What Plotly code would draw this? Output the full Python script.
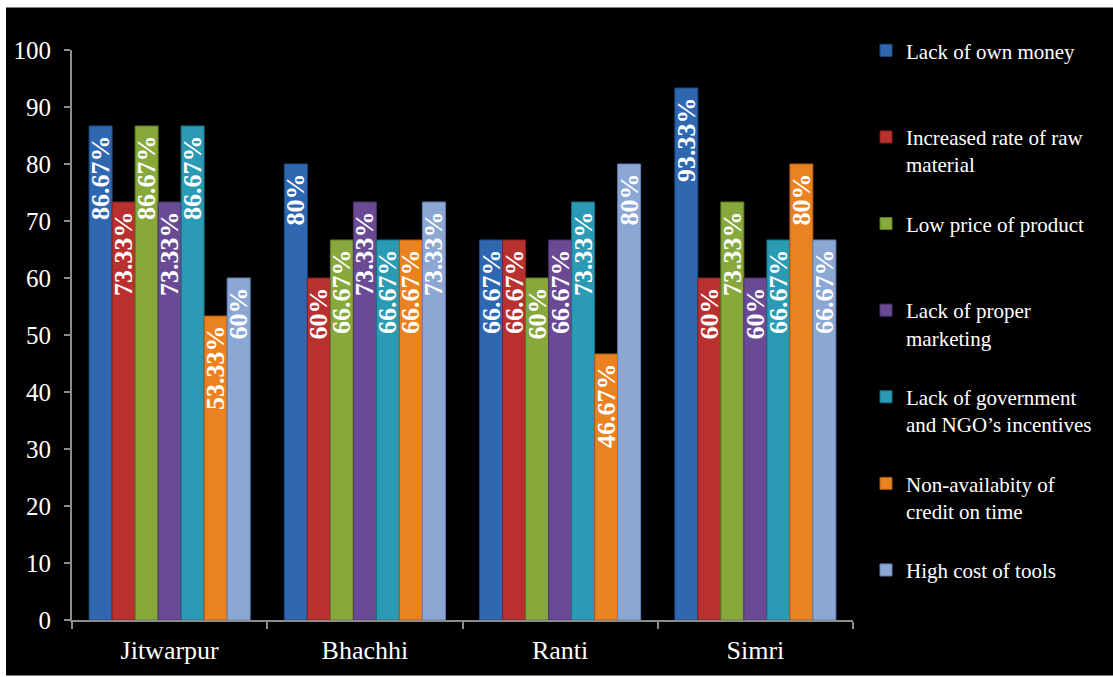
import plotly.graph_objects as go

# Survey: constraints faced by artisans, % of respondents per village
villages = ["Jitwarpur", "Bhachhi", "Ranti", "Simri"]

lack_of_own_money = [86.67, 80, 66.67, 93.33]
increased_raw_material_rate = [73.33, 60, 66.67, 60]
low_product_price = [86.67, 66.67, 60, 73.33]
lack_of_marketing = [73.33, 73.33, 66.67, 60]
lack_of_incentives = [86.67, 66.67, 73.33, 66.67]
no_credit_on_time = [53.33, 66.67, 46.67, 80]
high_tool_cost = [60, 73.33, 80, 66.67]

series_names = [
    "Lack of own money",
    "Increased rate of raw<br>material",
    "Low price of product",
    "Lack of proper<br>marketing",
    "Lack of government<br>and NGO’s incentives",
    "Non-availabity of<br>credit on time",
    "High cost of tools",
]
series_values = [
    lack_of_own_money,
    increased_raw_material_rate,
    low_product_price,
    lack_of_marketing,
    lack_of_incentives,
    no_credit_on_time,
    high_tool_cost,
]
series_colors = ["#2f67b1", "#b8312f", "#87a93c", "#6b4a95", "#2b9ab4", "#ea8221", "#8ca7d4"]
series_edges = ["#1f4a82", "#822220", "#5f7a27", "#4a3269", "#1d6f82", "#a85a12", "#6180b0"]

SERIF = "Liberation Serif, Times New Roman, Times, serif"

W, H = 1113, 677
ML, MR, MT, MB = 72, 260, 50, 51
PW, PH = W - ML - MR, H - MT - MB

fig = go.Figure()
for name, vals, col, edge in zip(series_names, series_values, series_colors, series_edges):
    label = name.replace("<br>", " ")
    # pad single-line legend entries to two lines so all entries have equal height
    legend_name = name if "<br>" in name else name + "<br> "
    fig.add_trace(go.Bar(
        x=villages,
        y=vals,
        name=legend_name,
        legendgroup=label,
        marker=dict(color=col, line=dict(color=edge, width=1)),
        # trailing no-break space keeps the label slightly below the bar top
        text=[f"{v:g}%\u00a0" for v in vals],
        textposition="inside",
        insidetextanchor="end",
        textangle=-90,
        constraintext="none",
        insidetextfont=dict(family=SERIF, size=26, color="white", weight="bold"),
        hovertemplate=label + ": %{y}%<extra>%{x}</extra>",
    ))

# black chart area inside a thin white frame on the top and left edges
fig.add_shape(
    type="rect", xref="paper", yref="paper", layer="below",
    x0=(6 - ML) / PW, x1=(W + 5 - ML) / PW,
    y0=-(MB + 5) / PH, y1=1 + (MT - 7) / PH,
    fillcolor="black", line=dict(width=0),
)

fig.update_layout(
    width=W, height=H,
    margin=dict(l=ML, r=MR, t=MT, b=MB, pad=0),
    paper_bgcolor="white",
    plot_bgcolor="#404040",
    barmode="group",
    bargap=0.175,
    bargroupgap=0,
    font=dict(family=SERIF, color="white"),
    showlegend=True,
    legend=dict(
        x=(866 - ML) / PW, xanchor="left",
        y=1 + 20 / PH, yanchor="top",
        font=dict(family=SERIF, size=21, color="white"),
        bgcolor="rgba(0,0,0,0)",
        tracegroupgap=29,
        valign="top",
        itemwidth=30,
        maxheight=H,
    ),
    xaxis=dict(
        type="category",
        showgrid=False,
        showline=True, linecolor="#8c8c8c", linewidth=2,
        ticks="outside", tickson="boundaries", ticklen=7, tickcolor="#8c8c8c", tickwidth=2,
        ticklabelstandoff=6,
        tickfont=dict(family=SERIF, size=26, color="white"),
    ),
    yaxis=dict(
        range=[0, 100], dtick=10,
        showgrid=False, zeroline=False,
        showline=True, linecolor="#8c8c8c", linewidth=2,
        ticks="outside", ticklen=6, tickcolor="#8c8c8c", tickwidth=2,
        ticklabelstandoff=8,
        tickfont=dict(family=SERIF, size=25, color="white"),
    ),
)

fig.write_html("out.html")
